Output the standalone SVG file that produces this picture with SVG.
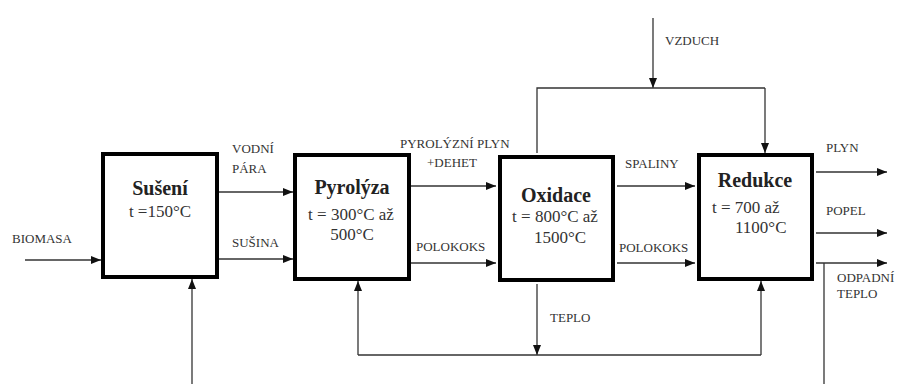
<svg xmlns="http://www.w3.org/2000/svg" width="917" height="384" viewBox="0 0 917 384">
<defs>
<marker id="ah" viewBox="0 0 10 8" refX="10" refY="4" markerWidth="10" markerHeight="8" markerUnits="userSpaceOnUse" orient="auto">
<path d="M0,0 L10,4 L0,8 Z" fill="#111"/>
</marker>
<style>
.box{fill:#fff;stroke:#000;stroke-width:4}
.ln{fill:none;stroke:#333;stroke-width:1.3}
.ar{fill:none;stroke:#333;stroke-width:1.3;marker-end:url(#ah)}
text{font-family:'Liberation Serif','Times New Roman','DejaVu Serif',serif}
.lb{font-size:13px;fill:#333}
.tt{font-size:20px;font-weight:bold;fill:#222;text-anchor:middle}
.tp{font-size:17px;fill:#333}
</style>
</defs>
<rect width="917" height="384" fill="#fff"/>
<g id="connectors">
<line class="ar" x1="25" y1="260" x2="101" y2="260"/>
<line class="ar" x1="192" y1="384" x2="192" y2="279"/>
<line class="ar" x1="219" y1="192" x2="293" y2="192"/>
<line class="ar" x1="219" y1="259" x2="293" y2="259"/>
<line class="ar" x1="411" y1="186" x2="496" y2="186"/>
<line class="ar" x1="411" y1="263" x2="496" y2="263"/>
<line class="ar" x1="653" y1="18" x2="653" y2="88"/>
<polyline class="ln" points="537,153 537,88 765,88"/>
<line class="ar" x1="765" y1="88" x2="765" y2="153"/>
<line class="ar" x1="617" y1="186" x2="695" y2="186"/>
<line class="ar" x1="617" y1="263" x2="695" y2="263"/>
<line class="ar" x1="537" y1="284" x2="537" y2="355"/>
<line class="ln" x1="358" y1="355" x2="761" y2="355"/>
<line class="ar" x1="358" y1="355" x2="358" y2="281"/>
<line class="ar" x1="761" y1="355" x2="761" y2="281"/>
<line class="ar" x1="816" y1="172" x2="887" y2="172"/>
<line class="ar" x1="816" y1="233" x2="887" y2="233"/>
<line class="ar" x1="816" y1="263" x2="887" y2="263"/>
<line class="ln" x1="824" y1="263" x2="824" y2="384"/>
</g>
<g id="labels">
<text class="lb" x="12" y="243">BIOMASA</text>
<text class="lb" x="232" y="153">VODNÍ</text>
<text class="lb" x="232" y="173">PÁRA</text>
<text class="lb" x="232" y="247">SUŠINA</text>
<text class="lb" x="400" y="148">PYROLÝZNÍ PLYN</text>
<text class="lb" x="427" y="167">+DEHET</text>
<text class="lb" x="416" y="251">POLOKOKS</text>
<text class="lb" x="665" y="45">VZDUCH</text>
<text class="lb" x="625" y="168">SPALINY</text>
<text class="lb" x="619" y="252">POLOKOKS</text>
<text class="lb" x="550" y="322">TEPLO</text>
<text class="lb" x="826" y="152">PLYN</text>
<text class="lb" x="826" y="215">POPEL</text>
<text class="lb" x="837" y="282">ODPADNÍ</text>
<text class="lb" x="837" y="298">TEPLO</text>
</g>
<g id="suseni">
<rect class="box" x="103" y="154" width="114" height="123"/>
<text class="tt" x="160" y="195">Sušení</text>
<text class="tp" x="160" y="217" text-anchor="middle">t =150°C</text>
</g>
<g id="pyrolyza">
<rect class="box" x="295" y="155" width="114" height="124"/>
<text class="tt" x="352" y="194">Pyrolýza</text>
<text class="tp" x="351" y="220" text-anchor="middle">t = 300°C až</text>
<text class="tp" x="352" y="240" text-anchor="middle">500°C</text>
</g>
<g id="oxidace">
<rect class="box" x="500" y="157" width="113" height="123"/>
<text class="tt" x="556" y="202">Oxidace</text>
<text class="tp" x="555" y="222" text-anchor="middle">t = 800°C až</text>
<text class="tp" x="560" y="243" text-anchor="middle">1500°C</text>
</g>
<g id="redukce">
<rect class="box" x="699" y="155" width="113" height="124"/>
<text class="tt" x="755" y="187">Redukce</text>
<text class="tp" x="712" y="213">t = 700 až</text>
<text class="tp" x="735" y="233">1100°C</text>
</g>
</svg>
